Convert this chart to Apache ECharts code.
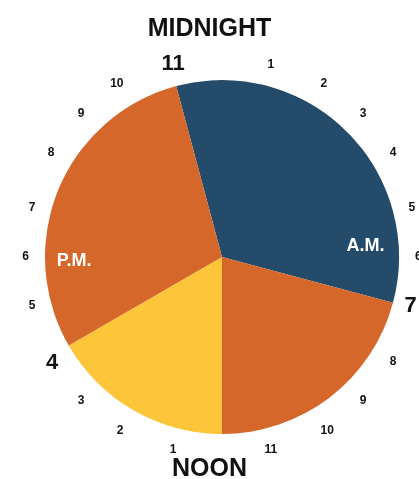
<!DOCTYPE html>
<html>
<head>
<meta charset="utf-8">
<style>
    html, body { margin: 0; padding: 0; background: #fff; }
    #chart { width: 419px; height: 479px; }
</style>
<script src="https://cdn.jsdelivr.net/npm/echarts@6/dist/echarts.min.js"></script>
</head>
<body>
<div id="chart"></div>
<script>
// hours of the day, starting at 11 P.M. and going round clockwise
const sliceNames = ['Sleep', 'Morning', 'Afternoon', 'Evening'];
const sliceHours = [8, 5, 4, 7];
const sliceColors = ['#244c6a', '#d6672a', '#fcc53a', '#d6672a'];
const startHour = 23;

// clock face: index = hour of the 24h clock
const hourLabels = ['', '1', '2', '3', '4', '5', '6', '7', '8', '9', '10', '11',
    '', '1', '2', '3', '4', '5', '6', '7', '8', '9', '10', '11'];
const bigHours = [7, 16, 23];

// half-day labels: [radius in px, hour]
const halfDayNames = ['A.M.', 'P.M.'];
const halfDayPos = [[144, 5.7], [148, 17.9]];

const FONT = '"Liberation Sans", Arial, sans-serif';
const CX = 222, CY = 257, R = 177;

const chart = echarts.init(document.getElementById('chart'));

chart.setOption({
    animation: false,
    textStyle: { fontFamily: FONT },
    title: [{
        text: 'MIDNIGHT',
        left: 'center',
        top: 12,
        textStyle: { fontFamily: FONT, fontSize: 25, fontWeight: 'bold', color: '#111' }
    }, {
        text: 'NOON',
        left: 'center',
        top: 452,
        textStyle: { fontFamily: FONT, fontSize: 25, fontWeight: 'bold', color: '#111' }
    }],
    polar: {
        center: [CX, CY],
        radius: R
    },
    angleAxis: {
        type: 'value',
        min: 0,
        max: 24,
        interval: 1,
        startAngle: 90,
        clockwise: true,
        axisLine: { show: false },
        axisTick: { show: false },
        splitLine: { show: false },
        axisLabel: {
            margin: 12,
            color: '#111',
            fontFamily: FONT,
            fontSize: 12,
            fontWeight: 'bold',
            formatter: function (v) {
                const t = hourLabels[v] || '';
                if (!t) return '';
                return bigHours.indexOf(v) >= 0 ? '{big|' + t + '}' : '{s|' + t + '}';
            },
            rich: {
                s: { fontFamily: FONT, fontSize: 12, fontWeight: 'bold', color: '#111', padding: 4 },
                big: { fontFamily: FONT, fontSize: 22, fontWeight: 'bold', color: '#111' }
            }
        }
    },
    radiusAxis: {
        min: 0,
        max: R,
        show: false
    },
    series: [{
        type: 'pie',
        center: [CX, CY],
        radius: R,
        startAngle: 90 + (24 - startHour) * 15,
        clockwise: true,
        silent: true,
        label: { show: false },
        labelLine: { show: false },
        z: 1,
        data: sliceNames.map((n, i) => ({
            name: n,
            value: sliceHours[i],
            itemStyle: { color: sliceColors[i] }
        }))
    }, {
        type: 'scatter',
        coordinateSystem: 'polar',
        symbolSize: 0,
        silent: true,
        z: 5,
        itemStyle: { opacity: 1 },
        label: {
            show: true,
            position: 'inside',
            color: '#ffffff',
            opacity: 1,
            fontFamily: FONT,
            fontSize: 18,
            fontWeight: 'bold',
            formatter: p => halfDayNames[p.dataIndex]
        },
        data: halfDayPos
    }]
});
</script>
</body>
</html>
